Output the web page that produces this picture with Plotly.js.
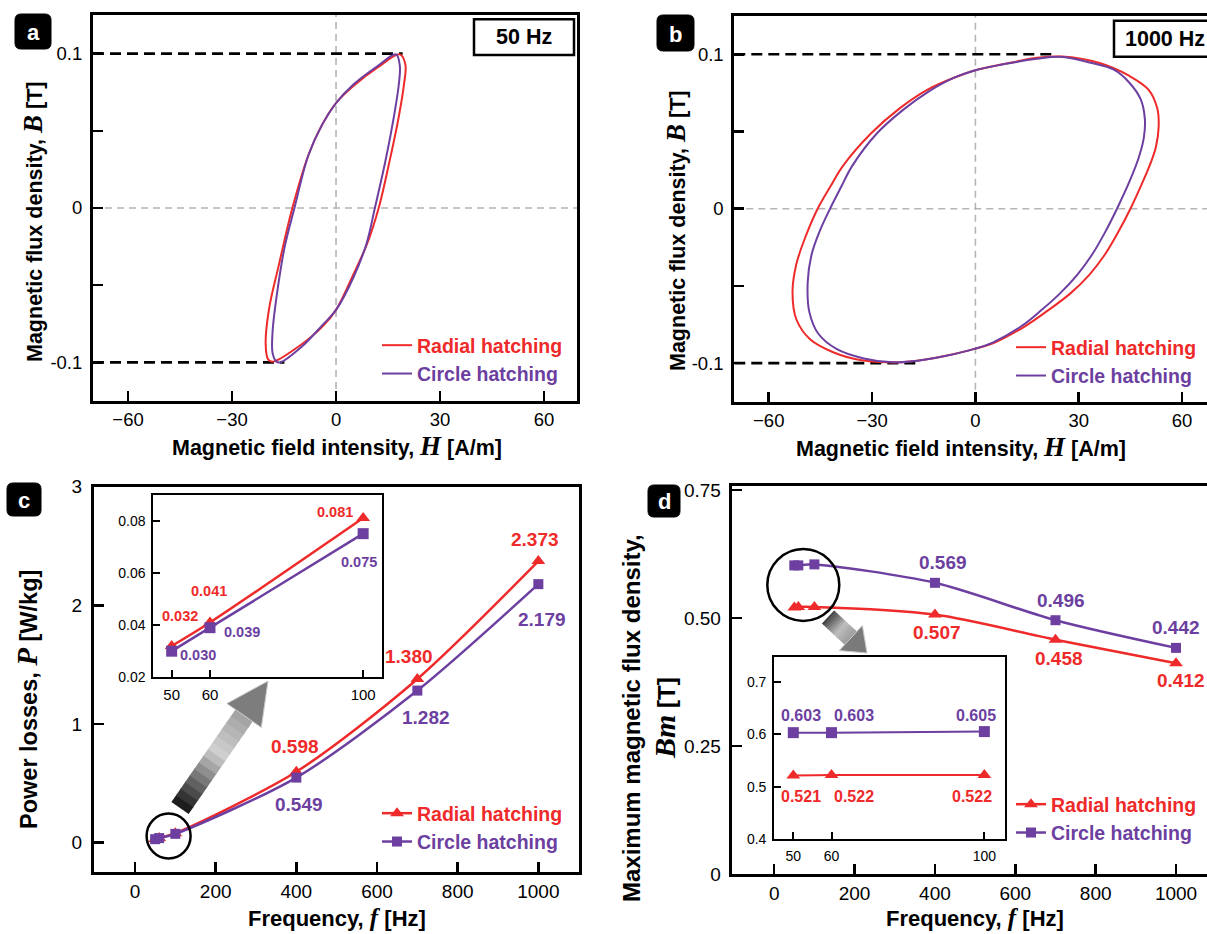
<!DOCTYPE html>
<html>
<head>
<meta charset="utf-8">
<script src="https://cdn.plot.ly/plotly-3.0.1.min.js"></script>
<style>
html,body{margin:0;padding:0;overflow:hidden;background:#fff;width:1207px;height:934px;}
#chart{width:1230px;height:934px;}
</style>
</head>
<body>
<div id="chart"></div>
<script>
// ================= DATA =================
// (a) 50 Hz hysteresis loops: H [A/m], B [T]
const aRadialH = [18.4, 12.0, 5.0, 0, -4.0, -8.0, -12.6, -16.5, -19.3, -20.3, -19.6, -18.2, -11.0, -4.0, 0, 5.0, 9.0, 12.3, 15.5, 18.0, 19.6, 20.0, 18.4];
const aRadialB = [0.0995, 0.091, 0.079, 0.068, 0.054, 0.034, 0, -0.037, -0.065, -0.088, -0.098, -0.0995, -0.090, -0.077, -0.066, -0.043, -0.023, 0, 0.031, 0.058, 0.080, 0.093, 0.0995];
const aCircleH = [17.3, 12.0, 5.0, 0, -4.0, -8.0, -12.0, -14.8, -17.0, -18.3, -18.3, -17.2, -16.2, -10.0, -4.0, 0, 5.0, 8.8, 11.2, 14.2, 16.6, 18.1, 18.4, 17.3];
const aCircleB = [0.0995, 0.092, 0.080, 0.068, 0.054, 0.034, 0, -0.025, -0.055, -0.080, -0.094, -0.0995, -0.1, -0.090, -0.076, -0.066, -0.045, -0.023, 0, 0.030, 0.058, 0.080, 0.092, 0.0995];

// (b) 1000 Hz hysteresis loops
const bRadialH = [25.1, 35.8, 44.7, 50.3, 52.8, 53.2, 52.4, 50.6, 48.1, 45.0, 41.5, 37.5, 33.0, 27.5, 21.0, 14.5, 5.6, 0, -8.9, -19.0, -25.7, -33.5, -41.3, -48.0, -52.0, -53.1, -52.0, -49.3, -45.8, -42.2, -38.5, -30.2, -22.0, -14.0, -6.0, 0, 8.0, 17.9, 25.1];
const bRadialB = [0.0985, 0.0945, 0.086, 0.077, 0.065, 0.053, 0.040, 0.028, 0.015, 0, -0.015, -0.030, -0.043, -0.055, -0.066, -0.076, -0.0867, -0.0906, -0.0954, -0.099, -0.0995, -0.098, -0.093, -0.0846, -0.0716, -0.054, -0.036, -0.018, 0, 0.014, 0.0276, 0.049, 0.065, 0.077, 0.085, 0.0897, 0.0935, 0.0977, 0.0985];
const bCircleH = [24.6, 33.5, 40.2, 44.7, 48.0, 49.2, 48.9, 47.4, 44.8, 41.1, 37.7, 33.8, 29.5, 24.5, 19.0, 13.4, 5.0, 0, -8.9, -19.0, -24.0, -32.4, -40.2, -45.6, -48.2, -48.7, -47.6, -45.3, -42.2, -39.0, -35.8, -28.5, -21.0, -13.5, -6.0, 0, 8.0, 17.9, 24.6];
const bCircleB = [0.0984, 0.0945, 0.090, 0.0816, 0.0708, 0.058, 0.046, 0.033, 0.018, 0, -0.015, -0.030, -0.043, -0.055, -0.066, -0.076, -0.0867, -0.0906, -0.0954, -0.099, -0.0995, -0.097, -0.091, -0.081, -0.067, -0.048, -0.030, -0.015, 0, 0.014, 0.0276, 0.049, 0.064, 0.076, 0.085, 0.0897, 0.0935, 0.0971, 0.0984];

// peak flux reference lines (B = +/-0.1 T) and where they end on the H axis
const peakB = [0.1, -0.1];
const aPeakEndH = [19.2, -14.9];
const bPeakEndH = [23.5, -16.2];

// (c) power losses and (d) maximum flux density vs frequency
const freq = [50, 60, 100, 400, 700, 1000];
const radialLoss = [0.032, 0.041, 0.081, 0.598, 1.380, 2.373];
const circleLoss = [0.030, 0.039, 0.075, 0.549, 1.282, 2.179];
const radialBm = [0.521, 0.522, 0.522, 0.507, 0.458, 0.412];
const circleBm = [0.603, 0.603, 0.605, 0.569, 0.496, 0.442];
const insetCount = 3; // 50, 60, 100 Hz shown in the insets

// tick labels
const hTicks = [-60, -30, 0, 30, 60];
const bTicks = [-0.1, -0.05, 0, 0.05, 0.1];
const bTickText = ['-0.1', '', '0', '', '0.1'];
const fTicks = [0, 200, 400, 600, 800, 1000];
const lossTicks = [0, 1, 2, 3];
const lossInsetTicks = [0.02, 0.04, 0.06, 0.08];
const lossInsetText = ['0.02', '0.04', '0.06', '0.08'];
const bmTicks = [0, 0.25, 0.5, 0.75];
const bmTickText = ['0', '0.25', '0.50', '0.75'];
const bmInsetTicks = [0.4, 0.5, 0.6, 0.7];
const bmInsetText = ['0.4', '0.5', '0.6', '0.7'];
const insetFreqTicks = [50, 60, 100];

// ================= STYLE / LAYOUT =================
const W = 1230, H = 934;
const X = v => v / W, Y = v => 1 - v / H;
const RED = '#ee2a2a', PURPLE = '#6c3fa0';
const F = 'Liberation Sans, Arial, sans-serif';
const SERIF = 'Liberation Serif, Times New Roman, serif';
const it = (s, size) => `<span style="font-family:${SERIF};font-style:italic;font-size:${size}px">${s}</span>`;

function axis(dom, range, o) {
  return Object.assign({
    domain: dom, range: range, showline: true, linecolor: '#000', linewidth: 3, mirror: true,
    ticks: 'inside', ticklen: 10, tickwidth: 2.5, tickcolor: '#000', showgrid: false, zeroline: false,
    fixedrange: true, tickfont: {family: F, size: 18.5, color: '#000'}
  }, o);
}
const xd = (l, r) => [X(l), X(r)];
const yd = (top, bot) => [Y(bot), Y(top)];

const aXR = [-70.1, 69.5], bXR = [-70, 69.5], BR = [-0.125, 0.125];
const big = {family: F, size: 19, color: '#000'};
const small = {family: F, size: 14, color: '#000'};

const layout = {
  width: W, height: H, margin: {l: 0, r: 0, t: 0, b: 0},
  paper_bgcolor: '#fff', plot_bgcolor: 'rgba(0,0,0,0)',
  font: {family: F, color: '#000'},
  xaxis:  axis(xd(93, 577), aXR, {anchor: 'y', tickvals: hTicks, ticklabelstandoff: 0}),
  yaxis:  axis(yd(15, 401), BR, {anchor: 'x', tickvals: bTicks, ticktext: bTickText, ticklabelstandoff: 4}),
  xaxis2: axis(xd(734.3, 1214.8), bXR, {anchor: 'y2', tickvals: hTicks, ticklabelstandoff: 0}),
  yaxis2: axis(yd(15.7, 401.7), BR, {anchor: 'x2', tickvals: bTicks, ticktext: bTickText, ticklabelstandoff: 4}),
  xaxis3: axis(xd(94, 578.7), [-101.6, 1100], {anchor: 'y3', tickvals: fTicks, ticklabelstandoff: 0, tickfont: big}),
  yaxis3: axis(yd(486.7, 871.7), [-0.244, 3.0], {anchor: 'x3', tickvals: lossTicks, ticklabelstandoff: 5, tickfont: big}),
  xaxis4: axis(xd(153.3, 382.3), [45.2, 105], {anchor: 'y4', tickvals: insetFreqTicks, linewidth: 2, ticklen: 7, tickwidth: 2, tickfont: {family: F, size: 15, color: '#000'}, ticklabelstandoff: 3}),
  yaxis4: axis(yd(495, 677.3), [0.02, 0.0898], {anchor: 'x4', tickvals: lossInsetTicks, ticktext: lossInsetText, linewidth: 2, ticklen: 7, tickwidth: 2, tickfont: small, ticklabelstandoff: 3}),
  xaxis5: axis(xd(731.7, 1216.2), [-105.8, 1100], {anchor: 'y5', tickvals: fTicks, ticklabelstandoff: 0, tickfont: big}),
  yaxis5: axis(yd(486, 874.3), [0, 0.758], {anchor: 'x5', tickvals: bmTicks, ticktext: bmTickText, ticklabelstandoff: 4, tickfont: big}),
  xaxis6: axis(xd(774.2, 1004.6), [45, 105.3], {anchor: 'y6', tickvals: insetFreqTicks, linewidth: 2, ticklen: 7, tickwidth: 2, tickfont: small, ticklabelstandoff: 3}),
  yaxis6: axis(yd(656.7, 839), [0.4, 0.748], {anchor: 'x6', tickvals: bmInsetTicks, ticktext: bmInsetText, linewidth: 2, ticklen: 7, tickwidth: 2, tickfont: small, ticklabelstandoff: 3}),
  shapes: [], annotations: []
};

function legendAt(left, top) {
  return {x: X(left), y: Y(top), xanchor: 'left', yanchor: 'top', bgcolor: 'rgba(0,0,0,0)', borderwidth: 0,
    font: {family: F, size: 19.5, color: '#000'}, itemwidth: 30, tracegroupgap: 0};
}
layout.legend = legendAt(377, 326);
layout.legend2 = legendAt(1011, 328);
layout.legend3 = legendAt(377, 794);
layout.legend4 = legendAt(1011, 785);

const nameR = `<b><span style="color:${RED}">Radial hatching</span></b>`;
const nameC = `<b><span style="color:${PURPLE}">Circle hatching</span></b>`;

// ================= TRACES =================
const traces = [];
function peakLines(xa, ya, ends, xmin) {
  for (let i = 0; i < peakB.length; i++) {
    traces.push({x: [xmin, ends[i]], y: [peakB[i], peakB[i]], xaxis: xa, yaxis: ya, mode: 'lines',
      line: {color: '#000', width: 2.6, dash: '11px,6px'}, showlegend: false, hoverinfo: 'skip'});
  }
}
peakLines('x', 'y', aPeakEndH, aXR[0]);
peakLines('x2', 'y2', bPeakEndH, bXR[0]);

function loop(hx, by, xa, ya, color, name, leg) {
  traces.push({x: hx, y: by, xaxis: xa, yaxis: ya, mode: 'lines', name: name, legend: leg,
    line: {color: color, width: 2, shape: 'spline', smoothing: 1}, hoverinfo: 'skip'});
}
loop(aRadialH, aRadialB, 'x', 'y', RED, nameR, 'legend');
loop(aCircleH, aCircleB, 'x', 'y', PURPLE, nameC, 'legend');
loop(bRadialH, bRadialB, 'x2', 'y2', RED, nameR, 'legend2');
loop(bCircleH, bCircleB, 'x2', 'y2', PURPLE, nameC, 'legend2');

function series(xs, ys, xa, ya, color, sym, msize, name, leg, show, lw) {
  traces.push({x: xs, y: ys, xaxis: xa, yaxis: ya, mode: 'lines+markers', name: name, legend: leg, showlegend: show,
    line: {color: color, width: lw, shape: 'spline', smoothing: 0.8},
    marker: {symbol: sym, size: msize, color: color}, hoverinfo: 'skip', cliponaxis: false});
}
series(freq, radialLoss, 'x3', 'y3', RED, 'triangle-up', 12, nameR, 'legend3', true, 2.5);
series(freq, circleLoss, 'x3', 'y3', PURPLE, 'square', 10, nameC, 'legend3', true, 2.5);
series(freq.slice(0, insetCount), radialLoss.slice(0, insetCount), 'x4', 'y4', RED, 'triangle-up', 12, nameR, 'legend3', false, 2.5);
series(freq.slice(0, insetCount), circleLoss.slice(0, insetCount), 'x4', 'y4', PURPLE, 'square', 11, nameC, 'legend3', false, 2.5);
series(freq, radialBm, 'x5', 'y5', RED, 'triangle-up', 12, nameR, 'legend4', true, 2.5);
series(freq, circleBm, 'x5', 'y5', PURPLE, 'square', 10, nameC, 'legend4', true, 2.5);
series(freq.slice(0, insetCount), radialBm.slice(0, insetCount), 'x6', 'y6', RED, 'triangle-up', 12, nameR, 'legend4', false, 2);
series(freq.slice(0, insetCount), circleBm.slice(0, insetCount), 'x6', 'y6', PURPLE, 'square', 11, nameC, 'legend4', false, 2);

// ================= SHAPES =================
const S = layout.shapes, A = layout.annotations;
[['x', 'y'], ['x2', 'y2']].forEach(([xa, ya]) => {
  S.push({type: 'line', xref: xa, yref: ya + ' domain', x0: 0, x1: 0, y0: 0, y1: 1, layer: 'below', line: {color: '#b5b5b5', width: 1.6, dash: '7px,5px'}});
  S.push({type: 'line', xref: xa + ' domain', yref: ya, x0: 0, x1: 1, y0: 0, y1: 0, layer: 'below', line: {color: '#b5b5b5', width: 1.6, dash: '7px,5px'}});
});
function rectPx(x0, y0, x1, y1, lw) {
  S.push({type: 'rect', xref: 'paper', yref: 'paper', x0: X(x0), x1: X(x1), y0: Y(y1), y1: Y(y0), line: {color: '#000', width: lw}, fillcolor: '#fff'});
}
rectPx(474, 19.3, 574, 55, 2.5);
rectPx(1114, 20.7, 1240, 56.7, 2.5);
function roundBox(x0, y0, x1, y1, r, letter) {
  const p = (x, y) => `${X(x)},${Y(y)}`;
  const path = `M ${p(x0 + r, y0)} L ${p(x1 - r, y0)} Q ${p(x1, y0)} ${p(x1, y0 + r)} L ${p(x1, y1 - r)} Q ${p(x1, y1)} ${p(x1 - r, y1)} L ${p(x0 + r, y1)} Q ${p(x0, y1)} ${p(x0, y1 - r)} L ${p(x0, y0 + r)} Q ${p(x0, y0)} ${p(x0 + r, y0)} Z`;
  S.push({type: 'path', xref: 'paper', yref: 'paper', path: path, fillcolor: '#000', line: {color: '#000', width: 1}});
  A.push({xref: 'paper', yref: 'paper', x: X((x0 + x1) / 2), y: Y((y0 + y1) / 2 + 1), text: `<b>${letter}</b>`, showarrow: false,
    font: {family: F, size: 22, color: '#fff'}, xanchor: 'center', yanchor: 'middle'});
}
roundBox(15, 14, 51, 49, 6, 'a');
roundBox(657, 15, 694, 51, 6, 'b');
roundBox(7, 483, 41, 516, 6, 'c');
roundBox(648, 485, 680, 517, 6, 'd');
function ring(cx, cy, rx, ry) {
  S.push({type: 'circle', xref: 'paper', yref: 'paper', x0: X(cx - rx), x1: X(cx + rx), y0: Y(cy + ry), y1: Y(cy - ry), line: {color: '#000', width: 2.5}});
}
ring(168.6, 836, 22, 22.5);
ring(803.3, 585, 36, 36);
function lerpColor(c0, c1, t) {
  const a = c0.match(/\w\w/g).map(h => parseInt(h, 16)), b = c1.match(/\w\w/g).map(h => parseInt(h, 16));
  return 'rgb(' + a.map((v, i) => Math.round(v + (b[i] - v) * t)).join(',') + ')';
}
function arrow(T, P, sw, hw, hl, stops, headColor) {
  const dx = P[0] - T[0], dy = P[1] - T[1], L = Math.hypot(dx, dy);
  const ux = dx / L, uy = dy / L, nx = -uy, ny = ux;
  const B = [P[0] - ux * hl, P[1] - uy * hl];
  const p = (x, y) => `${X(x)},${Y(y)}`;
  const n = 14;
  for (let k = 0; k < n; k++) {
    const t0 = k / n, t1 = Math.min(1, (k + 1.15) / n);
    const a = [T[0] + (B[0] - T[0]) * t0, T[1] + (B[1] - T[1]) * t0];
    const b = [T[0] + (B[0] - T[0]) * t1, T[1] + (B[1] - T[1]) * t1];
    const tm = (k + 0.5) / n;
    let col;
    if (tm < stops[1][0]) col = lerpColor(stops[0][1], stops[1][1], tm / stops[1][0]);
    else col = lerpColor(stops[1][1], stops[2][1], (tm - stops[1][0]) / (1 - stops[1][0]));
    const path = `M ${p(a[0] + nx * sw, a[1] + ny * sw)} L ${p(b[0] + nx * sw, b[1] + ny * sw)} L ${p(b[0] - nx * sw, b[1] - ny * sw)} L ${p(a[0] - nx * sw, a[1] - ny * sw)} Z`;
    S.push({type: 'path', xref: 'paper', yref: 'paper', path: path, fillcolor: col, line: {width: 0}});
  }
  const hp = `M ${p(B[0] + nx * hw, B[1] + ny * hw)} L ${p(P[0], P[1])} L ${p(B[0] - nx * hw, B[1] - ny * hw)} Z`;
  S.push({type: 'path', xref: 'paper', yref: 'paper', path: hp, fillcolor: headColor, line: {color: '#c8c8c8', width: 1}});
}
arrow([180, 808], [268, 681], 10.5, 21, 42, [[0, '121212'], [0.6, 'd0d0d0'], [1, 'a0a0a0']], '#7d7d7d');
arrow([828, 617], [867, 653], 9, 17, 22, [[0, '3a3a3a'], [0.55, 'bdbdbd'], [1, '9a9a9a']], '#7a7a7a');

// ================= ANNOTATIONS =================
function txt(x, y, text, size, o) {
  A.push(Object.assign({xref: 'paper', yref: 'paper', x: X(x), y: Y(y), text: text, showarrow: false,
    xanchor: 'center', yanchor: 'middle', font: {family: F, size: size, color: '#000'}}, o || {}));
}
txt(524, 37.5, '<b>50 Hz</b>', 21.5);
txt(1123, 39, '<b>1000 Hz</b>', 21.5, {xanchor: 'left'});
const bTitle = `<b>Magnetic flux density, ${it('B', 27)} [T]</b>`;
const hTitle = `<b>Magnetic field intensity, ${it('H', 27)} [A/m]</b>`;
const fTitle = `<b>Frequency, ${it('f', 25)} [Hz]</b>`;
txt(33, 222, bTitle, 21.5, {textangle: -90});
txt(337, 446, hTitle, 21.5);
txt(676, 231, bTitle, 21.5, {textangle: -90});
txt(961, 447, hTitle, 21.5);
txt(27, 700, `<b>Power losses, ${it('P', 29)} [W/kg]</b>`, 23.5, {textangle: -90});
txt(337, 917, fTitle, 22);
txt(631, 718, '<b>Maximum magnetic flux density,</b>', 24, {textangle: -90});
txt(664, 718, `<b>${it('Bm', 30)} [T]</b>`, 24, {textangle: -90});
txt(975, 917, fTitle, 22);

function valueLabels(xs, ys, xa, ya, color, size, offsets) {
  Object.keys(offsets).forEach(k => {
    const i = +k;
    A.push({xref: xa, yref: ya, x: xs[i], y: ys[i], text: `<b>${ys[i].toFixed(3)}</b>`, showarrow: false,
      xshift: offsets[k][0], yshift: offsets[k][1], xanchor: 'center', yanchor: 'middle',
      font: {family: F, size: size, color: color}});
  });
}
valueLabels(freq, radialLoss, 'x3', 'y3', RED, 19, {3: [-1, 25], 4: [-8, 22], 5: [-3, 22]});
valueLabels(freq, circleLoss, 'x3', 'y3', PURPLE, 19, {3: [3, -26.5], 4: [9, -27], 5: [4, -35]});
valueLabels(freq, radialLoss, 'x4', 'y4', RED, 14.5, {0: [8, 30], 1: [-1, 31], 2: [-28, 6]});
valueLabels(freq, circleLoss, 'x4', 'y4', PURPLE, 14.5, {0: [26, -4], 1: [32, -4], 2: [-4, -28]});
valueLabels(freq, circleBm, 'x5', 'y5', PURPLE, 19, {3: [8, 20], 4: [6, 20], 5: [0, 20]});
valueLabels(freq, radialBm, 'x5', 'y5', RED, 19, {3: [2, -18], 4: [4, -18.5], 5: [5, -17]});
valueLabels(freq, circleBm, 'x6', 'y6', PURPLE, 16, {0: [8, 17], 1: [22, 17], 2: [-8, 16]});
valueLabels(freq, radialBm, 'x6', 'y6', RED, 16, {0: [8, -21], 1: [22, -21.5], 2: [-12, -21.5]});

Plotly.newPlot('chart', traces, layout, {staticPlot: true, displayModeBar: false});
</script>
</body>
</html>
